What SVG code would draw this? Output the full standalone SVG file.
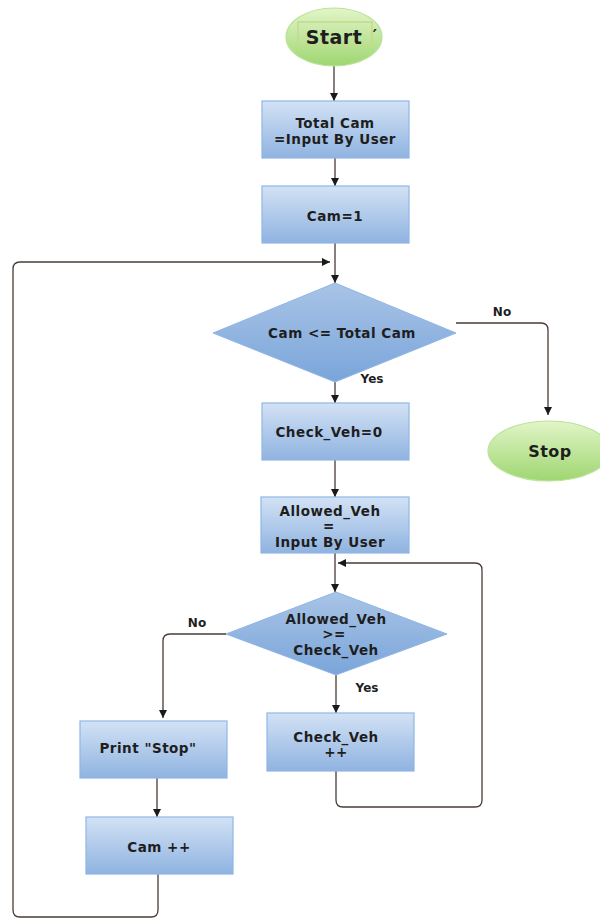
<svg xmlns="http://www.w3.org/2000/svg" width="600" height="919" viewBox="0 0 600 919">
<defs>
<linearGradient id="gBox" x1="0" y1="0" x2="0" y2="1"><stop offset="0" stop-color="#d3e2f5"/><stop offset="1" stop-color="#8fb3e0"/></linearGradient>
<linearGradient id="gDia" x1="0" y1="0" x2="0" y2="1"><stop offset="0" stop-color="#a9c4e6"/><stop offset="1" stop-color="#7aa5da"/></linearGradient>
<linearGradient id="gEl" x1="0" y1="0" x2="0" y2="1"><stop offset="0" stop-color="#e2f5c8"/><stop offset="1" stop-color="#9fd671"/></linearGradient>
<marker id="ah" viewBox="0 0 10 10" refX="10" refY="5" markerWidth="8" markerHeight="8" markerUnits="userSpaceOnUse" orient="auto"><path d="M0,0 L10,5 L0,10 z" fill="#1a1a1a"/></marker>
</defs>
<style>
.box{fill:url(#gBox);stroke:#8fb6e6;stroke-width:1.2}
.dia{fill:url(#gDia);stroke:#8fb6e6;stroke-width:1}
.el{fill:url(#gEl);stroke:#b9e39a;stroke-width:1.2}
.t{font-family:"DejaVu Sans",Verdana,sans-serif;font-weight:bold;font-size:13.5px;letter-spacing:0.5px;fill:#1e1e1e;text-anchor:middle}
.l{font-family:"DejaVu Sans",Verdana,sans-serif;font-weight:bold;font-size:12px;fill:#1e1e1e;text-anchor:middle}
.c{fill:none;stroke:#4a3c36;stroke-width:1.3;marker-end:url(#ah)}
</style>
<rect width="600" height="919" fill="#ffffff"/>
<g id="connectors">
<path class="c" d="M334,66 V101"/>
<path class="c" d="M335,158 V186"/>
<path class="c" d="M335,243 V283"/>
<path class="c" d="M456,323 H541 Q548,323 548,330 V415"/>
<path class="c" d="M335,382 V403"/>
<path class="c" d="M335,460 V497"/>
<path class="c" d="M335,553 V592"/>
<path class="c" d="M336,675 V713"/>
<path class="c" d="M226,634 H170 Q163,634 163,641 V718"/>
<path class="c" d="M336,771 V800 Q336,807 343,807 H475 Q482,807 482,800 V570 Q482,563 475,563 H338"/>
<path class="c" d="M157,778 V817"/>
<path class="c" d="M158,874 V910 Q158,917 151,917 H20 Q13,917 13,910 V269 Q13,262 20,262 H330"/>
</g>
<g id="start">
<ellipse class="el" cx="334" cy="37" rx="48" ry="29"/>
<rect x="298" y="22" width="74" height="23" fill="none" stroke="#c6d98a" stroke-width="1.5"/>
<text class="t" x="334" y="44" style="font-size:19px">Start</text>
<text class="t" x="375" y="41" style="font-size:16px">′</text>
</g>
<g id="total-cam">
<rect class="box" x="262" y="101" width="147" height="57"/>
<text class="t" x="335" y="128">Total Cam</text>
<text class="t" x="335" y="144">=Input By User</text>
</g>
<g id="cam1">
<rect class="box" x="262" y="186" width="147" height="57"/>
<text class="t" x="335" y="221">Cam=1</text>
</g>
<g id="cond1">
<polygon class="dia" points="335,283 456,333 335,382 213,333"/>
<text class="t" x="342" y="338">Cam &lt;= Total Cam</text>
</g>
<g id="stop">
<ellipse class="el" cx="549" cy="451" rx="61" ry="30"/>
<text class="t" x="550" y="457" style="font-size:16px">Stop</text>
</g>
<g id="check-veh0">
<rect class="box" x="262" y="403" width="147" height="57"/>
<text class="t" x="329" y="437">Check_Veh=0</text>
</g>
<g id="allowed-veh">
<rect class="box" x="261" y="497" width="148" height="56"/>
<text class="t" x="330" y="516">Allowed_Veh</text>
<text class="t" x="329" y="531">=</text>
<text class="t" x="330" y="547">Input By User</text>
</g>
<g id="cond2">
<polygon class="dia" points="336,592 447,634 336,675 226,634"/>
<text class="t" x="336" y="624">Allowed_Veh</text>
<text class="t" x="334" y="639">&gt;=</text>
<text class="t" x="336" y="655">Check_Veh</text>
</g>
<g id="check-veh-inc">
<rect class="box" x="267" y="713" width="147" height="58"/>
<text class="t" x="336" y="742">Check_Veh</text>
<text class="t" x="336" y="757">++</text>
</g>
<g id="print-stop">
<rect class="box" x="80" y="721" width="147" height="57"/>
<text class="t" x="148" y="753">Print "Stop"</text>
</g>
<g id="cam-inc">
<rect class="box" x="86" y="817" width="147" height="57"/>
<text class="t" x="159" y="852">Cam ++</text>
</g>
<g id="labels">
<text class="l" x="502" y="316">No</text>
<text class="l" x="372" y="383">Yes</text>
<text class="l" x="197" y="627">No</text>
<text class="l" x="367" y="692">Yes</text>
</g>
</svg>
